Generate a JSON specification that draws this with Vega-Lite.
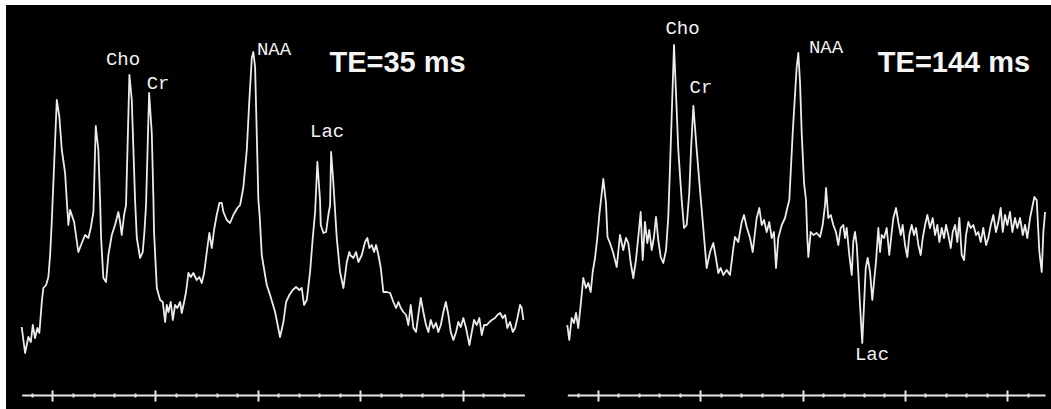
{
  "$schema": "https://vega.github.io/schema/vega-lite/v6.json",
  "background": "white",
  "padding": {"left": 6, "top": 5, "right": 0, "bottom": 0},
  "spacing": 0,
  "bounds": "flush",
  "config": {"view": {"fill": "black", "stroke": null}},
  "datasets": {
    "te35": [
      {"ppm":4.30,"signal":68},{"ppm":4.267,"signal":42},{"ppm":4.235,"signal":58},{"ppm":4.211,"signal":53},{"ppm":4.192,"signal":70},{"ppm":4.170,"signal":57},{"ppm":4.147,"signal":67},{"ppm":4.128,"signal":62},{"ppm":4.104,"signal":93},{"ppm":4.089,"signal":107},{"ppm":4.062,"signal":110},{"ppm":4.040,"signal":118},{"ppm":4.023,"signal":140},{"ppm":4.007,"signal":173},{"ppm":3.958,"signal":295},{"ppm":3.933,"signal":278},{"ppm":3.909,"signal":245},{"ppm":3.877,"signal":222},{"ppm":3.861,"signal":195},{"ppm":3.845,"signal":170},{"ppm":3.828,"signal":185},{"ppm":3.812,"signal":180},{"ppm":3.789,"signal":173},{"ppm":3.748,"signal":143},{"ppm":3.714,"signal":152},{"ppm":3.682,"signal":160},{"ppm":3.650,"signal":157},{"ppm":3.627,"signal":167},{"ppm":3.601,"signal":183},{"ppm":3.578,"signal":269},{"ppm":3.553,"signal":245},{"ppm":3.536,"signal":195},{"ppm":3.526,"signal":157},{"ppm":3.504,"signal":117},{"ppm":3.478,"signal":113},{"ppm":3.455,"signal":140},{"ppm":3.422,"signal":160},{"ppm":3.390,"signal":170},{"ppm":3.358,"signal":183},{"ppm":3.341,"signal":173},{"ppm":3.325,"signal":160},{"ppm":3.302,"signal":180},{"ppm":3.283,"signal":190},{"ppm":3.250,"signal":320},{"ppm":3.227,"signal":295},{"ppm":3.211,"signal":245},{"ppm":3.195,"signal":195},{"ppm":3.178,"signal":157},{"ppm":3.146,"signal":137},{"ppm":3.120,"signal":143},{"ppm":3.104,"signal":163},{"ppm":3.088,"signal":190},{"ppm":3.058,"signal":302},{"ppm":3.032,"signal":262},{"ppm":3.016,"signal":195},{"ppm":3.010,"signal":163},{"ppm":2.983,"signal":107},{"ppm":2.951,"signal":95},{"ppm":2.925,"signal":93},{"ppm":2.902,"signal":73},{"ppm":2.886,"signal":90},{"ppm":2.870,"signal":83},{"ppm":2.847,"signal":93},{"ppm":2.827,"signal":75},{"ppm":2.805,"signal":90},{"ppm":2.783,"signal":87},{"ppm":2.756,"signal":93},{"ppm":2.740,"signal":82},{"ppm":2.717,"signal":93},{"ppm":2.698,"signal":103},{"ppm":2.675,"signal":122},{"ppm":2.652,"signal":118},{"ppm":2.627,"signal":122},{"ppm":2.594,"signal":115},{"ppm":2.568,"signal":118},{"ppm":2.545,"signal":112},{"ppm":2.522,"signal":122},{"ppm":2.496,"signal":143},{"ppm":2.471,"signal":162},{"ppm":2.447,"signal":147},{"ppm":2.425,"signal":165},{"ppm":2.399,"signal":180},{"ppm":2.373,"signal":192},{"ppm":2.350,"signal":192},{"ppm":2.334,"signal":183},{"ppm":2.301,"signal":175},{"ppm":2.269,"signal":172},{"ppm":2.237,"signal":180},{"ppm":2.198,"signal":187},{"ppm":2.171,"signal":190},{"ppm":2.139,"signal":208},{"ppm":2.106,"signal":245},{"ppm":2.081,"signal":295},{"ppm":2.057,"signal":337},{"ppm":2.042,"signal":343},{"ppm":2.025,"signal":328},{"ppm":2.009,"signal":262},{"ppm":1.993,"signal":195},{"ppm":1.981,"signal":180},{"ppm":1.960,"signal":140},{"ppm":1.928,"signal":120},{"ppm":1.911,"signal":110},{"ppm":1.879,"signal":100},{"ppm":1.830,"signal":83},{"ppm":1.782,"signal":58},{"ppm":1.749,"signal":73},{"ppm":1.723,"signal":93},{"ppm":1.691,"signal":100},{"ppm":1.658,"signal":105},{"ppm":1.626,"signal":108},{"ppm":1.593,"signal":105},{"ppm":1.570,"signal":107},{"ppm":1.548,"signal":90},{"ppm":1.521,"signal":95},{"ppm":1.489,"signal":123},{"ppm":1.463,"signal":157},{"ppm":1.440,"signal":183},{"ppm":1.418,"signal":233},{"ppm":1.392,"signal":195},{"ppm":1.385,"signal":170},{"ppm":1.359,"signal":162},{"ppm":1.333,"signal":163},{"ppm":1.311,"signal":180},{"ppm":1.294,"signal":190},{"ppm":1.284,"signal":243},{"ppm":1.262,"signal":212},{"ppm":1.229,"signal":157},{"ppm":1.197,"signal":123},{"ppm":1.164,"signal":107},{"ppm":1.131,"signal":133},{"ppm":1.106,"signal":143},{"ppm":1.099,"signal":140},{"ppm":1.067,"signal":137},{"ppm":1.041,"signal":143},{"ppm":1.018,"signal":133},{"ppm":0.985,"signal":140},{"ppm":0.953,"signal":153},{"ppm":0.931,"signal":157},{"ppm":0.911,"signal":147},{"ppm":0.888,"signal":150},{"ppm":0.865,"signal":143},{"ppm":0.846,"signal":150},{"ppm":0.823,"signal":140},{"ppm":0.800,"signal":127},{"ppm":0.775,"signal":103},{"ppm":0.742,"signal":103},{"ppm":0.709,"signal":102},{"ppm":0.677,"signal":93},{"ppm":0.651,"signal":87},{"ppm":0.628,"signal":93},{"ppm":0.605,"signal":87},{"ppm":0.580,"signal":83},{"ppm":0.553,"signal":80},{"ppm":0.531,"signal":70},{"ppm":0.508,"signal":90},{"ppm":0.482,"signal":67},{"ppm":0.456,"signal":63},{"ppm":0.434,"signal":80},{"ppm":0.410,"signal":97},{"ppm":0.385,"signal":83},{"ppm":0.359,"signal":70},{"ppm":0.336,"signal":63},{"ppm":0.313,"signal":75},{"ppm":0.287,"signal":67},{"ppm":0.261,"signal":72},{"ppm":0.239,"signal":63},{"ppm":0.215,"signal":70},{"ppm":0.190,"signal":83},{"ppm":0.166,"signal":93},{"ppm":0.141,"signal":80},{"ppm":0.118,"signal":63},{"ppm":0.092,"signal":55},{"ppm":0.066,"signal":63},{"ppm":0.044,"signal":73},{"ppm":0.020,"signal":68},{"ppm":-0.005,"signal":77},{"ppm":-0.031,"signal":67},{"ppm":-0.064,"signal":50},{"ppm":-0.087,"signal":63},{"ppm":-0.109,"signal":75},{"ppm":-0.136,"signal":70},{"ppm":-0.161,"signal":77},{"ppm":-0.184,"signal":60},{"ppm":-0.207,"signal":70},{"ppm":-0.233,"signal":70},{"ppm":-0.259,"signal":73},{"ppm":-0.282,"signal":75},{"ppm":-0.314,"signal":77},{"ppm":-0.337,"signal":80},{"ppm":-0.363,"signal":82},{"ppm":-0.389,"signal":77},{"ppm":-0.412,"signal":80},{"ppm":-0.434,"signal":67},{"ppm":-0.460,"signal":73},{"ppm":-0.487,"signal":63},{"ppm":-0.509,"signal":67},{"ppm":-0.532,"signal":77},{"ppm":-0.558,"signal":90},{"ppm":-0.574,"signal":87},{"ppm":-0.590,"signal":75}
    ],
    "te144": [
      {"ppm":4.300,"signal":70},{"ppm":4.281,"signal":55},{"ppm":4.257,"signal":77},{"ppm":4.235,"signal":72},{"ppm":4.215,"signal":82},{"ppm":4.193,"signal":67},{"ppm":4.169,"signal":90},{"ppm":4.144,"signal":117},{"ppm":4.117,"signal":107},{"ppm":4.095,"signal":112},{"ppm":4.071,"signal":103},{"ppm":4.052,"signal":123},{"ppm":4.029,"signal":137},{"ppm":4.007,"signal":157},{"ppm":3.987,"signal":180},{"ppm":3.948,"signal":216},{"ppm":3.922,"signal":192},{"ppm":3.907,"signal":158},{"ppm":3.883,"signal":152},{"ppm":3.851,"signal":142},{"ppm":3.817,"signal":128},{"ppm":3.785,"signal":160},{"ppm":3.753,"signal":145},{"ppm":3.726,"signal":157},{"ppm":3.704,"signal":152},{"ppm":3.680,"signal":132},{"ppm":3.655,"signal":117},{"ppm":3.629,"signal":135},{"ppm":3.606,"signal":158},{"ppm":3.583,"signal":183},{"ppm":3.563,"signal":135},{"ppm":3.541,"signal":173},{"ppm":3.518,"signal":152},{"ppm":3.499,"signal":165},{"ppm":3.475,"signal":145},{"ppm":3.453,"signal":158},{"ppm":3.433,"signal":178},{"ppm":3.411,"signal":155},{"ppm":3.387,"signal":138},{"ppm":3.362,"signal":132},{"ppm":3.335,"signal":145},{"ppm":3.313,"signal":178},{"ppm":3.296,"signal":228},{"ppm":3.257,"signal":350},{"ppm":3.215,"signal":245},{"ppm":3.182,"signal":195},{"ppm":3.159,"signal":167},{"ppm":3.133,"signal":170},{"ppm":3.108,"signal":202},{"ppm":3.091,"signal":245},{"ppm":3.068,"signal":289},{"ppm":3.035,"signal":245},{"ppm":3.003,"signal":205},{"ppm":2.971,"signal":167},{"ppm":2.938,"signal":127},{"ppm":2.905,"signal":143},{"ppm":2.873,"signal":152},{"ppm":2.847,"signal":137},{"ppm":2.824,"signal":122},{"ppm":2.801,"signal":127},{"ppm":2.775,"signal":120},{"ppm":2.742,"signal":125},{"ppm":2.710,"signal":120},{"ppm":2.677,"signal":147},{"ppm":2.661,"signal":158},{"ppm":2.629,"signal":153},{"ppm":2.595,"signal":173},{"ppm":2.573,"signal":180},{"ppm":2.547,"signal":168},{"ppm":2.514,"signal":157},{"ppm":2.488,"signal":143},{"ppm":2.465,"signal":163},{"ppm":2.449,"signal":177},{"ppm":2.423,"signal":187},{"ppm":2.400,"signal":170},{"ppm":2.377,"signal":175},{"ppm":2.351,"signal":163},{"ppm":2.326,"signal":173},{"ppm":2.302,"signal":157},{"ppm":2.280,"signal":163},{"ppm":2.260,"signal":127},{"ppm":2.238,"signal":157},{"ppm":2.204,"signal":170},{"ppm":2.172,"signal":177},{"ppm":2.150,"signal":187},{"ppm":2.130,"signal":195},{"ppm":2.097,"signal":262},{"ppm":2.058,"signal":328},{"ppm":2.042,"signal":342},{"ppm":2.025,"signal":312},{"ppm":2.009,"signal":262},{"ppm":1.986,"signal":212},{"ppm":1.967,"signal":195},{"ppm":1.954,"signal":157},{"ppm":1.944,"signal":138},{"ppm":1.921,"signal":163},{"ppm":1.895,"signal":160},{"ppm":1.862,"signal":162},{"ppm":1.830,"signal":158},{"ppm":1.804,"signal":170},{"ppm":1.781,"signal":190},{"ppm":1.771,"signal":207},{"ppm":1.749,"signal":177},{"ppm":1.725,"signal":180},{"ppm":1.700,"signal":170},{"ppm":1.674,"signal":163},{"ppm":1.651,"signal":150},{"ppm":1.628,"signal":167},{"ppm":1.602,"signal":170},{"ppm":1.586,"signal":157},{"ppm":1.569,"signal":167},{"ppm":1.544,"signal":140},{"ppm":1.520,"signal":120},{"ppm":1.505,"signal":153},{"ppm":1.488,"signal":163},{"ppm":1.471,"signal":150},{"ppm":1.456,"signal":123},{"ppm":1.439,"signal":90},{"ppm":1.417,"signal":52},{"ppm":1.400,"signal":90},{"ppm":1.383,"signal":127},{"ppm":1.364,"signal":137},{"ppm":1.341,"signal":123},{"ppm":1.319,"signal":95},{"ppm":1.302,"signal":113},{"ppm":1.283,"signal":133},{"ppm":1.260,"signal":167},{"ppm":1.243,"signal":143},{"ppm":1.227,"signal":160},{"ppm":1.204,"signal":157},{"ppm":1.178,"signal":167},{"ppm":1.153,"signal":140},{"ppm":1.129,"signal":163},{"ppm":1.113,"signal":177},{"ppm":1.087,"signal":187},{"ppm":1.065,"signal":173},{"ppm":1.041,"signal":160},{"ppm":1.022,"signal":170},{"ppm":0.999,"signal":150},{"ppm":0.977,"signal":138},{"ppm":0.957,"signal":160},{"ppm":0.934,"signal":170},{"ppm":0.911,"signal":160},{"ppm":0.891,"signal":167},{"ppm":0.869,"signal":150},{"ppm":0.846,"signal":140},{"ppm":0.826,"signal":157},{"ppm":0.803,"signal":170},{"ppm":0.781,"signal":180},{"ppm":0.755,"signal":167},{"ppm":0.728,"signal":177},{"ppm":0.706,"signal":160},{"ppm":0.683,"signal":170},{"ppm":0.664,"signal":153},{"ppm":0.640,"signal":167},{"ppm":0.618,"signal":157},{"ppm":0.598,"signal":170},{"ppm":0.576,"signal":160},{"ppm":0.552,"signal":147},{"ppm":0.533,"signal":163},{"ppm":0.510,"signal":170},{"ppm":0.488,"signal":153},{"ppm":0.468,"signal":177},{"ppm":0.445,"signal":140},{"ppm":0.422,"signal":135},{"ppm":0.403,"signal":160},{"ppm":0.380,"signal":173},{"ppm":0.357,"signal":167},{"ppm":0.331,"signal":170},{"ppm":0.305,"signal":160},{"ppm":0.283,"signal":163},{"ppm":0.259,"signal":153},{"ppm":0.234,"signal":167},{"ppm":0.207,"signal":150},{"ppm":0.185,"signal":157},{"ppm":0.161,"signal":170},{"ppm":0.136,"signal":180},{"ppm":0.110,"signal":163},{"ppm":0.087,"signal":173},{"ppm":0.064,"signal":187},{"ppm":0.044,"signal":163},{"ppm":0.022,"signal":180},{"ppm":-0.001,"signal":170},{"ppm":-0.027,"signal":183},{"ppm":-0.050,"signal":163},{"ppm":-0.076,"signal":177},{"ppm":-0.099,"signal":167},{"ppm":-0.125,"signal":177},{"ppm":-0.152,"signal":160},{"ppm":-0.174,"signal":170},{"ppm":-0.196,"signal":157},{"ppm":-0.223,"signal":177},{"ppm":-0.249,"signal":190},{"ppm":-0.265,"signal":198},{"ppm":-0.288,"signal":195},{"ppm":-0.314,"signal":143},{"ppm":-0.337,"signal":123},{"ppm":-0.353,"signal":163},{"ppm":-0.370,"signal":183}
    ],
    "peaks35": [
      {"ppm":3.312,"signal":330,"label":"Cho"},
      {"ppm":2.971,"signal":306,"label":"Cr"},
      {"ppm":1.840,"signal":340,"label":"NAA"},
      {"ppm":1.323,"signal":258,"label":"Lac"}
    ],
    "peaks144": [
      {"ppm":3.174,"signal":361,"label":"Cho"},
      {"ppm":2.993,"signal":302,"label":"Cr"},
      {"ppm":1.771,"signal":342,"label":"NAA"},
      {"ppm":1.322,"signal":35,"label":"Lac"}
    ]
  },
  "hconcat": [
    {
      "width": 532,
      "height": 404,
      "resolve": {"axis": {"x": "independent"}},
      "layer": [
        {
          "data": {"name": "te35"},
          "mark": {"type": "line", "color": "#ececec", "strokeWidth": 1.8, "strokeJoin": "round"},
          "encoding": {
            "x": {"field": "ppm", "type": "quantitative",
              "scale": {"domain": [4.3, -0.6], "range": [15.7, 518.4], "nice": false, "zero": false},
              "axis": {"orient": "bottom", "values": [4, 3, 2, 1, 0], "domain": false, "labels": false, "grid": false, "title": null,
                "ticks": true, "tickSize": 11, "tickWidth": 2, "tickColor": "#e6e6e6", "offset": -19}},
            "y": {"field": "signal", "type": "quantitative",
              "scale": {"domain": [-14, 390], "nice": false, "zero": false}, "axis": null}
          }
        },
        {
          "data": {"name": "peaks35"},
          "mark": {"type": "text", "font": "Liberation Mono", "fontSize": 19, "color": "#f2f2f2", "align": "center", "baseline": "alphabetic"},
          "encoding": {
            "x": {"field": "ppm", "type": "quantitative",
              "scale": {"domain": [4.3, -0.6], "range": [15.7, 518.4], "nice": false, "zero": false},
              "axis": {"orient": "bottom", "domain": true, "domainColor": "#e6e6e6", "domainWidth": 2, "ticks": false, "labels": false, "grid": false, "title": null, "offset": -14}},
            "y": {"field": "signal", "type": "quantitative",
              "scale": {"domain": [-14, 390], "nice": false, "zero": false}, "axis": null},
            "text": {"field": "label", "type": "nominal"}
          }
        },
        {
          "data": {"values": [{"ppm": 0.636, "signal": 323, "label": "TE=35 ms"}]},
          "mark": {"type": "text", "font": "Liberation Sans", "fontWeight": "bold", "fontSize": 29, "color": "#f5f5f5", "align": "center", "baseline": "alphabetic"},
          "encoding": {
            "x": {"field": "ppm", "type": "quantitative",
              "scale": {"domain": [4.3, -0.6], "range": [15.7, 518.4], "nice": false, "zero": false},
              "axis": {"orient": "bottom", "values": [4.2, 3.8, 3.6, 3.4, 3.2, 2.8, 2.6, 2.4, 2.2, 1.8, 1.6, 1.4, 1.2, 0.8, 0.6, 0.4, 0.2, -0.2, -0.4],
                "domain": false, "labels": false, "grid": false, "title": null, "ticks": true, "tickSize": 4, "tickWidth": 2, "tickColor": "#e6e6e6", "offset": -16}},
            "y": {"field": "signal", "type": "quantitative",
              "scale": {"domain": [-14, 390], "nice": false, "zero": false}, "axis": null},
            "text": {"field": "label", "type": "nominal"}
          }
        }
      ]
    },
    {
      "width": 513,
      "height": 404,
      "resolve": {"axis": {"x": "independent"}},
      "layer": [
        {
          "data": {"name": "te144"},
          "mark": {"type": "line", "color": "#ececec", "strokeWidth": 1.8, "strokeJoin": "round"},
          "encoding": {
            "x": {"field": "ppm", "type": "quantitative",
              "scale": {"domain": [4.3, -0.37], "range": [29.3, 507.1], "nice": false, "zero": false},
              "axis": {"orient": "bottom", "values": [4, 3, 2, 1, 0], "domain": false, "labels": false, "grid": false, "title": null,
                "ticks": true, "tickSize": 11, "tickWidth": 2, "tickColor": "#e6e6e6", "offset": -19}},
            "y": {"field": "signal", "type": "quantitative",
              "scale": {"domain": [-14, 390], "nice": false, "zero": false}, "axis": null}
          }
        },
        {
          "data": {"name": "peaks144"},
          "mark": {"type": "text", "font": "Liberation Mono", "fontSize": 19, "color": "#f2f2f2", "align": "center", "baseline": "alphabetic"},
          "encoding": {
            "x": {"field": "ppm", "type": "quantitative",
              "scale": {"domain": [4.3, -0.37], "range": [29.3, 507.1], "nice": false, "zero": false},
              "axis": {"orient": "bottom", "domain": true, "domainColor": "#e6e6e6", "domainWidth": 2, "ticks": false, "labels": false, "grid": false, "title": null, "offset": -14}},
            "y": {"field": "signal", "type": "quantitative",
              "scale": {"domain": [-14, 390], "nice": false, "zero": false}, "axis": null},
            "text": {"field": "label", "type": "nominal"}
          }
        },
        {
          "data": {"values": [{"ppm": 0.52, "signal": 323, "label": "TE=144 ms"}]},
          "mark": {"type": "text", "font": "Liberation Sans", "fontWeight": "bold", "fontSize": 29, "color": "#f5f5f5", "align": "center", "baseline": "alphabetic"},
          "encoding": {
            "x": {"field": "ppm", "type": "quantitative",
              "scale": {"domain": [4.3, -0.37], "range": [29.3, 507.1], "nice": false, "zero": false},
              "axis": {"orient": "bottom", "values": [4.2, 3.8, 3.6, 3.4, 3.2, 2.8, 2.6, 2.4, 2.2, 1.8, 1.6, 1.4, 1.2, 0.8, 0.6, 0.4, 0.2, -0.2],
                "domain": false, "labels": false, "grid": false, "title": null, "ticks": true, "tickSize": 4, "tickWidth": 2, "tickColor": "#e6e6e6", "offset": -16}},
            "y": {"field": "signal", "type": "quantitative",
              "scale": {"domain": [-14, 390], "nice": false, "zero": false}, "axis": null},
            "text": {"field": "label", "type": "nominal"}
          }
        }
      ]
    }
  ]
}
